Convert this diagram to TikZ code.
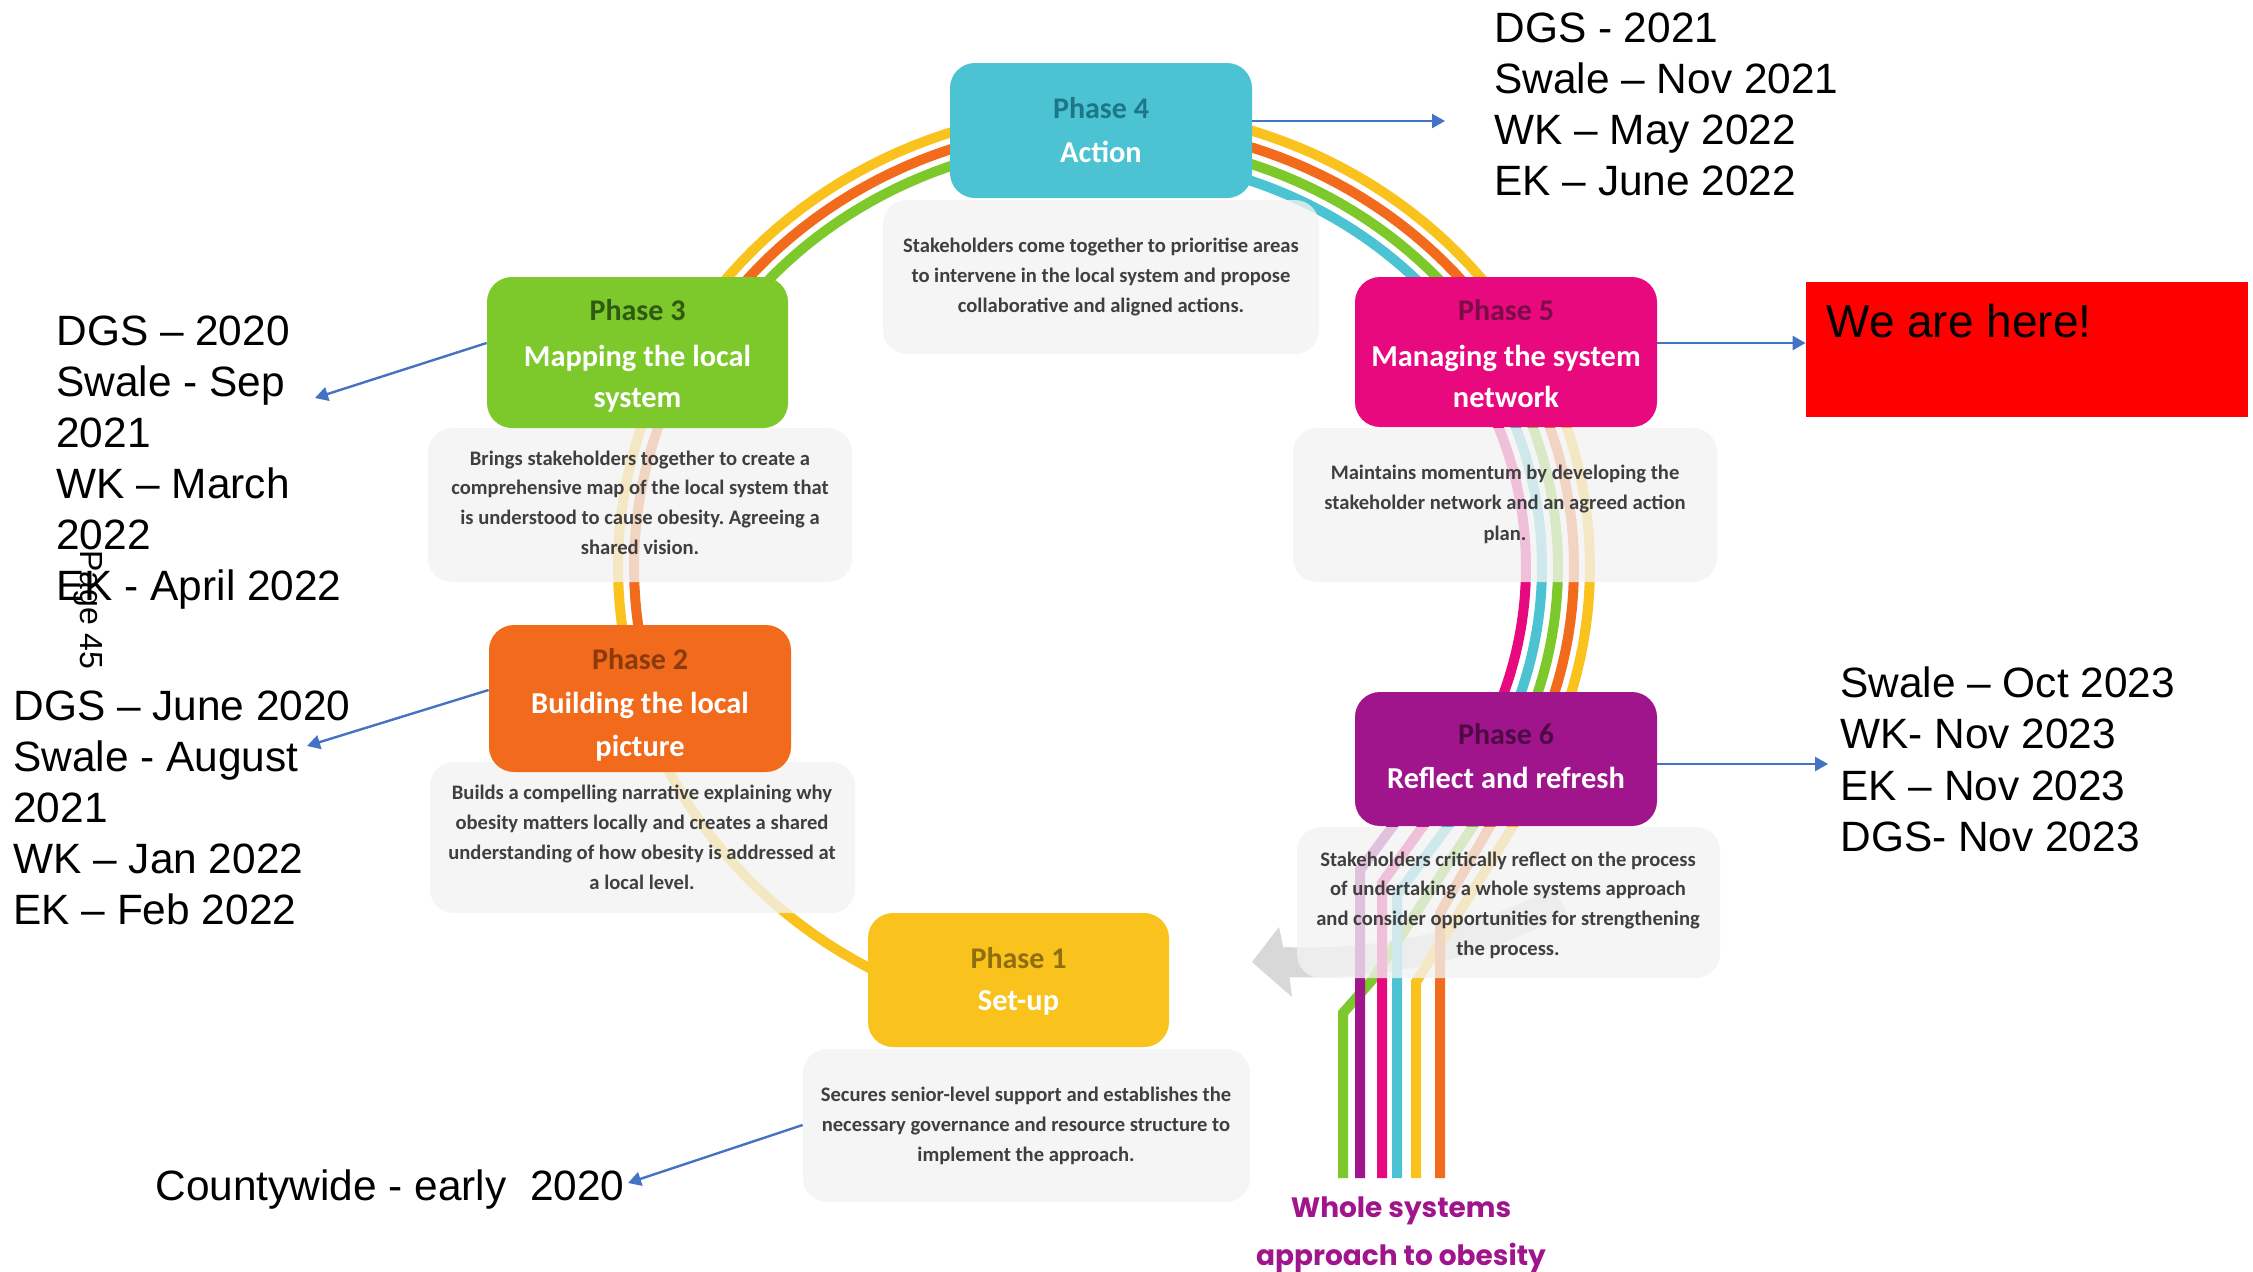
\documentclass[tikz,border=0pt]{standalone}
\usepackage{fontspec}
\setmainfont{Liberation Sans}
\newfontfamily\calfont{Carlito}
\newfontfamily\popfont{Poppins}
\usetikzlibrary{arrows.meta}
\frenchspacing
\definecolor{cY}{HTML}{F9C21D}
\definecolor{cO}{HTML}{F26A1C}
\definecolor{cG}{HTML}{7DC82A}
\definecolor{cC}{HTML}{4BC3D2}
\definecolor{cM}{HTML}{E9097F}
\definecolor{cP}{HTML}{A1158C}
\definecolor{dY}{HTML}{8F6E10}
\definecolor{dO}{HTML}{8B3A0C}
\definecolor{dG}{HTML}{2F5A12}
\definecolor{dC}{HTML}{1E7787}
\definecolor{dM}{HTML}{7A0C48}
\definecolor{dP}{HTML}{4D0A44}
\definecolor{descfill}{HTML}{F3F3F3}
\definecolor{desctext}{HTML}{3F3F3F}
\definecolor{arrblue}{HTML}{4472C4}
\definecolor{greyarrow}{HTML}{D8D8D8}
\begin{document}
\begin{tikzpicture}[x=0.5pt,y=-0.5pt,
  rb/.style={line width=5pt},
  descbox/.style={draw=none, fill=descfill, fill opacity=0.78, rounded corners=12pt, inner sep=0pt},
  phbox/.style={draw=none, rounded corners=12.5pt, inner sep=0pt},
  phnum/.style={font=\calfont\bfseries\fontsize{15}{18}\selectfont, anchor=base, inner sep=0pt},
  phtitle/.style={font=\calfont\bfseries\fontsize{15.2}{18}\selectfont, text=white, anchor=base, inner sep=0pt},
  desct/.style={font=\calfont\bfseries\fontsize{10.3}{12}\selectfont, text=desctext, anchor=base, inner sep=0pt},
  side/.style={font=\fontsize{21.2}{25.5}\selectfont, anchor=base west, inner sep=0pt},
  arr/.style={draw=arrblue, line width=1.2pt, -{Triangle[length=6.5pt,width=7pt]}},
]
\path[use as bounding box] (0,0) rectangle (2253,1271);
\clip (0,0) rectangle (2253,1271);
\fill[white] (0,0) rectangle (2253,1271);

% grey return arrow shaft
\draw[greyarrow, line width=15pt] (1283,962) .. controls (1380,966) and (1480,945) .. (1560,900);

% rainbow
\draw[rb, cY] plot[domain=115:385, samples=140] ({1104+486*cos(\x)},{567+458*sin(\x)}) -- (1513,826) -- (1416,982) -- (1416,1178);
\draw[rb, cO] plot[domain=162.5:385.9, samples=120] ({1104+470*cos(\x)},{567+442*sin(\x)}) -- (1490,826) -- (1440,913) -- (1440,1178);
\draw[rb, cG] plot[domain=215:386.9, samples=100] ({1104+454*cos(\x)},{567+426*sin(\x)}) -- (1473,826) -- (1372,980) -- (1343,1013) -- (1343,1178);
\draw[rb, cC] plot[domain=280:388.1, samples=80] ({1104+438*cos(\x)},{567+410*sin(\x)}) -- (1448,826) -- (1397,895) -- (1397,1178);
\draw[rb, cM] plot[domain=335:389.3, samples=50] ({1104+422*cos(\x)},{567+394*sin(\x)}) -- (1423,826) -- (1382,883) -- (1382,1178);
\draw[rb, cP] (1420,760) -- (1393,826) -- (1360,870) -- (1360,1178);

% description boxes
\node[descbox, minimum width=218pt, minimum height=77pt] (d4) at (1101,277) {};
\node[descbox, minimum width=212pt, minimum height=77pt] (d3) at (640,505) {};
\node[descbox, minimum width=212pt, minimum height=77pt] (d5) at (1505,505) {};
\node[descbox, minimum width=212.5pt, minimum height=75.5pt] (d2) at (642.5,837.5) {};
\node[descbox, minimum width=211.5pt, minimum height=75.5pt] (d6) at (1508.5,902.5) {};
\node[descbox, minimum width=223.5pt, minimum height=76.5pt] (d1) at (1026.5,1125.5) {};

% grey arrow head
\fill[greyarrow] (1252,962) -- (1279,927) -- (1284,951) -- (1289,973) -- (1292,997) -- cycle;

% phase boxes
\node[phbox, fill=cC, minimum width=151pt, minimum height=67.5pt] (p4) at (1101,130.5) {};
\node[phbox, fill=cG, minimum width=150.5pt, minimum height=75.5pt] (p3) at (637.5,352.5) {};
\node[phbox, fill=cM, minimum width=151pt, minimum height=75pt] (p5) at (1506,352) {};
\node[phbox, fill=cO, minimum width=151pt, minimum height=73.5pt] (p2) at (640,698.5) {};
\node[phbox, fill=cP, minimum width=151pt, minimum height=67pt] (p6) at (1506,759) {};
\node[phbox, fill=cY, minimum width=150.5pt, minimum height=67pt] (p1) at (1018.5,980) {};

% phase texts
\node[phnum, text=dC] (p4n) at (1101,118) {Phase 4};
\node[phtitle] (p4t) at (1101,162) {Action};
\node[phnum, text=dG] (p3n) at (637.5,320) {Phase 3};
\node[phtitle] (p3t) at (637.5,366) {Mapping the local};
\node[phtitle] (p3u) at (637.5,407) {system};
\node[phnum, text=dM] (p5n) at (1506,320) {Phase 5};
\node[phtitle] (p5t) at (1506,366) {Managing the system};
\node[phtitle] (p5u) at (1506,407) {network};
\node[phnum, text=dO] (p2n) at (640,669) {Phase 2};
\node[phtitle] (p2t) at (640,713) {Building the local};
\node[phtitle] (p2u) at (640,756) {picture};
\node[phnum, text=dP] (p6n) at (1506,744) {Phase 6};
\node[phtitle] (p6t) at (1506,788) {Reflect and refresh};
\node[phnum, text=dY] (p1n) at (1018.5,968) {Phase 1};
\node[phtitle] (p1t) at (1018.5,1010) {Set-up};

% description texts
\foreach \t [count=\i] in {{Stakeholders come together to prioritise areas},{to intervene in the local system and propose},{collaborative and aligned actions.}}
  \node[desct] (d4l\i) at (1101,{252+30*(\i-1)}) {\t};
\foreach \t [count=\i] in {{Brings stakeholders together to create a},{comprehensive map of the local system that},{is understood to cause obesity. Agreeing a},{shared vision.}}
  \node[desct] (d3l\i) at (640,{465+29.7*(\i-1)}) {\t};
\foreach \t [count=\i] in {{Maintains momentum by developing the},{stakeholder network and an agreed action},{plan.}}
  \node[desct] (d5l\i) at (1505,{479+30.5*(\i-1)}) {\t};
\foreach \t [count=\i] in {{Builds a compelling narrative explaining why},{obesity matters locally and creates a shared},{understanding of how obesity is addressed at},{a local level.}}
  \node[desct] (d2l\i) at (642,{799+30*(\i-1)}) {\t};
\foreach \t [count=\i] in {{Stakeholders critically reflect on the process},{of undertaking a whole systems approach},{and consider opportunities for strengthening},{the process.}}
  \node[desct] (d6l\i) at (1508,{866+29.7*(\i-1)}) {\t};
\foreach \t [count=\i] in {{Secures senior-level support and establishes the},{necessary governance and resource structure to},{implement the approach.}}
  \node[desct] (d1l\i) at (1026,{1101+30*(\i-1)}) {\t};

% whole systems label
\node[font=\popfont\bfseries\fontsize{14}{17}\selectfont, text=cP, anchor=base, inner sep=0pt] (ws1) at (1401,1217) {Whole systems};
\node[font=\popfont\bfseries\fontsize{14}{17}\selectfont, text=cP, anchor=base, inner sep=0pt] (ws2) at (1401,1265) {approach to obesity};

% side labels
\foreach \t [count=\i] in {{DGS – 2020},{Swale - Sep},{2021},{WK – March},{2022},{EK - April 2022}}
  \node[side] (lu\i) at (56,{345+51*(\i-1)}) {\t};
\foreach \t [count=\i] in {{DGS – June 2020},{Swale - August},{2021},{WK – Jan 2022},{EK – Feb 2022}}
  \node[side] (ll\i) at (13,{720+51.2*(\i-1)}) {\t};
\foreach \t [count=\i] in {{DGS - 2021},{Swale – Nov 2021},{WK – May 2022},{EK – June 2022}}
  \node[side] (rt\i) at (1494,{42+51*(\i-1)}) {\t};
\foreach \t [count=\i] in {{Swale – Oct 2023},{WK- Nov 2023},{EK – Nov 2023},{DGS- Nov 2023}}
  \node[side] (rm\i) at (1840,{697+51.5*(\i-1)}) {\t};
\node[side] (cw) at (155,1200) {Countywide - early~ 2020};
\node[font=\fontsize{16}{19}\selectfont, rotate=-90, inner sep=0pt] (pg) at (88,610) {Page 45};

% red box
\node[fill=red, draw=none, inner sep=0pt, minimum width=221pt, minimum height=67.5pt] (red) at (2027,349.5) {};
\node[font=\fontsize{23}{27}\selectfont, anchor=base west, inner sep=0pt] (here) at (1826,337) {We are here!};

% blue arrows
\coordinate (e4) at (1445,121);
\coordinate (e6) at (1828,764);
\coordinate (e3) at (315,398);
\coordinate (e2) at (307,746);
\coordinate (e1) at (628,1183);
\draw[arr] (p4.east |- 0,121) -- (e4);
\draw[arr] (p5.east |- 0,343) -- (red.west |- 0,343);
\draw[arr] (p6.east |- 0,764) -- (e6);
\draw[arr] (p3.west |- 0,343) -- (e3);
\draw[arr] (p2.west |- 0,690) -- (e2);
\draw[arr] (d1.west |- 0,1125) -- (e1);
\end{tikzpicture}
\end{document}
